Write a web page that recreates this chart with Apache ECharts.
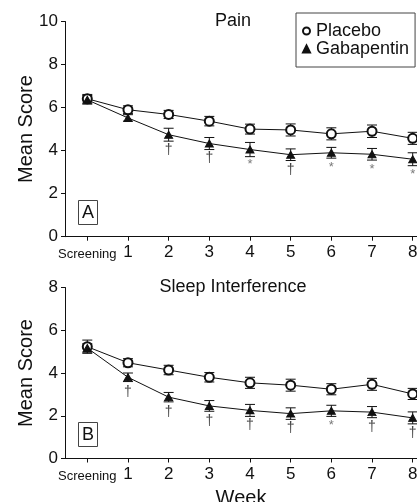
<!DOCTYPE html>
<html><head><meta charset="utf-8">
<script src="https://cdn.jsdelivr.net/npm/echarts@6/dist/echarts.min.js"></script>
<style>html,body{margin:0;padding:0;background:#fff}#c{width:417px;height:502px}</style>
</head><body><div id="c"></div>
<script>
// ---- data ----
const weeks = [0, 1, 2, 3, 4, 5, 6, 7, 8];
const tickLabels = ['Screening', '1', '2', '3', '4', '5', '6', '7', '8'];

const painPlacebo    = [6.41, 5.90, 5.68, 5.37, 5.00, 4.96, 4.78, 4.90, 4.57];
const painPlaceboErr = [0.20, 0.18, 0.19, 0.22, 0.23, 0.28, 0.28, 0.29, 0.28];
const painGaba       = [6.36, 5.52, 4.74, 4.33, 4.05, 3.81, 3.90, 3.83, 3.60];
const painGabaErr    = [0.20, 0.15, 0.30, 0.28, 0.33, 0.27, 0.25, 0.27, 0.30];
const painMarks      = ['', '', '†', '†', '*', '†', '*', '*', '*'];

const sleepPlacebo    = [5.23, 4.48, 4.14, 3.80, 3.54, 3.43, 3.24, 3.47, 3.02];
const sleepPlaceboErr = [0.31, 0.19, 0.22, 0.22, 0.26, 0.28, 0.26, 0.28, 0.26];
const sleepGaba       = [5.17, 3.80, 2.87, 2.46, 2.25, 2.10, 2.23, 2.17, 1.90];
const sleepGabaErr    = [0.20, 0.20, 0.22, 0.25, 0.28, 0.27, 0.26, 0.26, 0.28];
const sleepMarks      = ['', '†', '†', '†', '†', '†', '*', '†', '†'];

// ---- chart ----
const FONT = 'Liberation Sans, Arial, Helvetica, sans-serif';
const INK = '#111';

function pts(vals) { return weeks.map((w, i) => [w, vals[i]]); }
function errData(vals, errs) { return weeks.map((w, i) => [w, vals[i] - errs[i], vals[i] + errs[i]]); }
function gabaData(vals, marks) {
  return weeks.map((w, i) => {
    const m = marks[i];
    const item = { value: [w, vals[i]] };
    if (m) {
      item.label = {
        show: true, formatter: m, position: 'inside',
        offset: [0, 15],
        fontSize: m === '*' ? 13 : 14, fontFamily: FONT,
        color: m === '*' ? '#7a7a7a' : '#444'
      };
    }
    return item;
  });
}
function errSeries(xi, vals, errs) {
  return {
    type: 'custom', xAxisIndex: xi, yAxisIndex: xi, z: 1, silent: true,
    data: errData(vals, errs),
    renderItem(params, api) {
      const x = api.value(0);
      const top = api.coord([x, api.value(2)]);
      const bot = api.coord([x, api.value(1)]);
      const w = 5;
      const st = { stroke: INK, lineWidth: 1 };
      return { type: 'group', children: [
        { type: 'line', shape: { x1: top[0], y1: top[1], x2: bot[0], y2: bot[1] }, style: st },
        { type: 'line', shape: { x1: top[0] - w, y1: top[1], x2: top[0] + w, y2: top[1] }, style: st },
        { type: 'line', shape: { x1: bot[0] - w, y1: bot[1], x2: bot[0] + w, y2: bot[1] }, style: st }
      ]};
    }
  };
}
function xAxisCfg(gi, withName) {
  const c = {
    type: 'value', gridIndex: gi, min: -0.548, max: 8.106,
    axisLine: { onZero: false, lineStyle: { color: INK, width: 1 } },
    splitLine: { show: false },
    axisTick: { show: true, length: 4, customValues: weeks, lineStyle: { color: INK } },
    axisLabel: {
      customValues: weeks, margin: 7, color: INK, fontFamily: FONT,
      formatter: v => {
        const i = weeks.indexOf(Math.round(v));
        return i === 0 ? '{s|' + tickLabels[0] + '}' : '{n|' + tickLabels[i] + '}';
      },
      rich: {
        s: { fontSize: 13, fontFamily: FONT, color: INK, padding: [4, 0, 0, 0] },
        n: { fontSize: 17, fontFamily: FONT, color: INK }
      }
    }
  };
  if (withName) {
    Object.assign(c, { name: 'Week', nameLocation: 'middle', nameGap: 30, nameMoveOverlap: false,
      nameTextStyle: { fontSize: 20, fontFamily: FONT, color: INK } });
  }
  return c;
}
function yAxisCfg(gi, max) {
  return {
    type: 'value', gridIndex: gi, min: 0, max: max, interval: 2,
    name: 'Mean Score', nameLocation: 'middle', nameGap: 29, nameMoveOverlap: false,
    nameTextStyle: { fontSize: 20, fontFamily: FONT, color: INK },
    axisLine: { show: true, onZero: false, lineStyle: { color: INK, width: 1 } },
    axisTick: { show: true, length: 4, lineStyle: { color: INK } },
    splitLine: { show: false },
    axisLabel: { fontSize: 17, fontFamily: FONT, color: INK, margin: 7 }
  };
}
function lineSeries(gi, name, data, sym, size, z) {
  return {
    type: 'line', name: name, xAxisIndex: gi, yAxisIndex: gi, z: z,
    data: data, symbol: sym, symbolSize: size, showAllSymbol: true,
    lineStyle: { color: INK, width: 1 },
    itemStyle: { color: INK, borderColor: INK, borderWidth: 1 },
    emphasis: { disabled: true }, animation: false
  };
}

const chart = echarts.init(document.getElementById('c'), null, { renderer: 'canvas' });
chart.setOption({
  animation: false,
  backgroundColor: '#fff',
  textStyle: { fontFamily: FONT },
  title: [
    { text: 'Pain', left: 233, top: 12, textAlign: 'center', padding: 0,
      textStyle: { fontSize: 18, fontWeight: 'normal', color: INK, fontFamily: FONT } },
    { text: 'Sleep Interference', left: 233, top: 278, textAlign: 'center', padding: 0,
      textStyle: { fontSize: 18, fontWeight: 'normal', color: INK, fontFamily: FONT } },
    { text: 'A', left: 78, top: 200, padding: [4, 4, 3, 4], borderWidth: 1, borderColor: '#444',
      textStyle: { fontSize: 18, fontWeight: 'normal', color: INK, fontFamily: FONT } },
    { text: 'B', left: 78, top: 422, padding: [4, 4, 3, 4], borderWidth: 1, borderColor: '#444',
      textStyle: { fontSize: 18, fontWeight: 'normal', color: INK, fontFamily: FONT } }
  ],
  legend: {
    left: 296, top: 13, orient: 'vertical', padding: [9, 6, 9, 6], itemGap: 0,
    itemWidth: 7, itemHeight: 7, borderColor: '#444', borderWidth: 1,
    textStyle: { fontSize: 18, fontFamily: FONT, color: INK, padding: [0, 0, 0, 1] },
    data: [{ name: 'Placebo', icon: 'emptyCircle' }, { name: 'Gabapentin', icon: 'triangle' }],
    selectedMode: false
  },
  grid: [
    { left: 65, right: 0, top: 21.5, height: 215.2, containLabel: false, outerBoundsMode: 'none' },
    { left: 65, right: 0, top: 287.5, height: 171, containLabel: false, outerBoundsMode: 'none' }
  ],
  xAxis: [xAxisCfg(0, false), xAxisCfg(1, true)],
  yAxis: [yAxisCfg(0, 10), yAxisCfg(1, 8)],
  series: [
    errSeries(0, painPlacebo, painPlaceboErr),
    errSeries(0, painGaba, painGabaErr),
    lineSeries(0, 'Placebo', pts(painPlacebo), 'emptyCircle', 9, 3),
    lineSeries(0, 'Gabapentin', gabaData(painGaba, painMarks), 'triangle', [8, 7], 4),
    errSeries(1, sleepPlacebo, sleepPlaceboErr),
    errSeries(1, sleepGaba, sleepGabaErr),
    lineSeries(1, 'Placebo', pts(sleepPlacebo), 'emptyCircle', 9, 3),
    lineSeries(1, 'Gabapentin', gabaData(sleepGaba, sleepMarks), 'triangle', [8, 7], 4)
  ]
});
</script></body></html>
